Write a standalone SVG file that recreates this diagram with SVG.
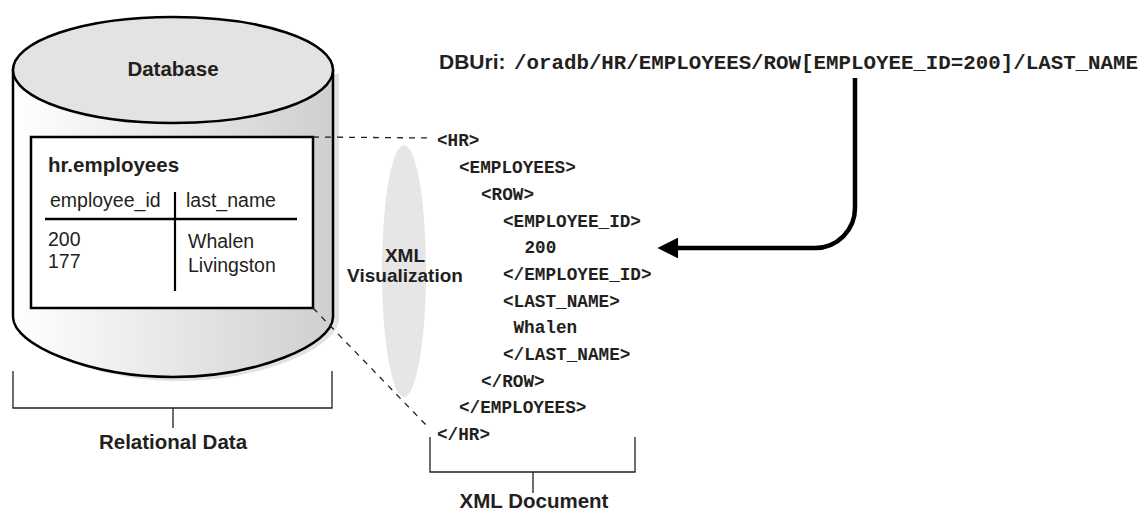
<svg xmlns="http://www.w3.org/2000/svg" width="1143" height="513" viewBox="0 0 1143 513">
<defs>
<linearGradient id="body" x1="0" y1="0" x2="1" y2="0">
<stop offset="0" stop-color="#ffffff"/>
<stop offset="1" stop-color="#cfcfd0"/>
</linearGradient>
<marker id="ah" viewBox="0 0 10 10" refX="1" refY="5" markerWidth="5.5" markerHeight="4.6" orient="auto" markerUnits="strokeWidth">
<path d="M0,0 L10,5 L0,10 z" fill="#000"/>
</marker>
<style>
.sb{font-family:"Liberation Sans",Arial,sans-serif;font-weight:bold;fill:#231f20;}
.sr{font-family:"Liberation Sans",Arial,sans-serif;fill:#231f20;}
.mono{font-family:"Liberation Mono","Courier New",monospace;font-weight:bold;fill:#231f20;}
.x{font-size:17.7px;}
.thin{stroke:#231f20;stroke-width:1.3;fill:none;}
.dash{stroke:#231f20;stroke-width:1.3;fill:none;stroke-dasharray:6 6;}
</style>
</defs>
<rect width="1143" height="513" fill="#fff"/>

<g id="database">
<path d="M19,74 L19,319 C19,347 96,381 179,381 C262,381 339,347 339,319 L339,74 Z" fill="#e2e2e2"/>
<path d="M13,70 L13,317 C13,345 90,377 173,377 C256,377 333,345 333,317 L333,70 Z" fill="url(#body)" stroke="#000" stroke-width="2.5"/>
<ellipse cx="173" cy="70" rx="160" ry="53" fill="#e3e3e3" stroke="#000" stroke-width="2.5"/>
<text class="sb" x="173" y="76" font-size="20.5" text-anchor="middle">Database</text>
</g>

<g id="table">
<rect x="31" y="137" width="282" height="171" fill="#fff" stroke="#000" stroke-width="2.5"/>
<text class="sb" x="48" y="172" font-size="20.5">hr.employees</text>
<text class="sr" x="50" y="207" font-size="19.5">employee_id</text>
<text class="sr" x="186" y="207" font-size="19.5">last_name</text>
<line x1="45" y1="219" x2="297" y2="219" stroke="#000" stroke-width="2.5"/>
<line x1="175" y1="192" x2="175" y2="291" stroke="#000" stroke-width="2.2"/>
<text class="sr" x="48" y="246" font-size="19.5">200</text>
<text class="sr" x="48" y="268" font-size="19.5">177</text>
<text class="sr" x="188" y="248" font-size="19.5">Whalen</text>
<text class="sr" x="188" y="272" font-size="19.5">Livingston</text>
</g>

<g id="relational-data">
<path class="thin" d="M13,371 L13,408 L332,408 L332,371 M173,408 L173,428"/>
<text class="sb" x="173" y="449" font-size="20.5" text-anchor="middle">Relational Data</text>
</g>

<g id="xml-visualization">
<ellipse cx="404" cy="271" rx="22" ry="126" fill="#e6e6e6"/>
<text class="sb" x="405" y="262" font-size="19" text-anchor="middle">XML</text>
<text class="sb" x="405" y="282" font-size="19" text-anchor="middle">Visualization</text>
</g>

<g id="xml-document">
<text class="mono x" x="437" y="146">&lt;HR&gt;</text>
<text class="mono x" x="459" y="173">&lt;EMPLOYEES&gt;</text>
<text class="mono x" x="481" y="200">&lt;ROW&gt;</text>
<text class="mono x" x="503" y="226.5">&lt;EMPLOYEE_ID&gt;</text>
<text class="mono x" x="524.5" y="253">200</text>
<text class="mono x" x="503" y="280">&lt;/EMPLOYEE_ID&gt;</text>
<text class="mono x" x="503" y="306.5">&lt;LAST_NAME&gt;</text>
<text class="mono x" x="513.5" y="333">Whalen</text>
<text class="mono x" x="503" y="360">&lt;/LAST_NAME&gt;</text>
<text class="mono x" x="481" y="386.5">&lt;/ROW&gt;</text>
<text class="mono x" x="459" y="413">&lt;/EMPLOYEES&gt;</text>
<text class="mono x" x="437" y="440">&lt;/HR&gt;</text>
<path class="thin" d="M430,437 L430,472 L635,472 L635,437 M533,472 L533,493"/>
<text class="sb" x="534" y="508" font-size="20.5" text-anchor="middle">XML Document</text>
</g>

<g id="dburi">
<text y="69"><tspan class="sb" x="439" style="font-size:21px">DBUri:</tspan><tspan class="mono" x="514" style="font-size:20.8px">/oradb/HR/EMPLOYEES/ROW[EMPLOYEE_ID=200]/LAST_NAME</tspan></text>
</g>

<g id="connectors">
<path class="dash" d="M313,137 L432,138"/>
<path class="dash" d="M313,308 L428,427"/>
<path d="M855,78 L855,208 A40,40 0 0 1 815,248 L676,248" fill="none" stroke="#000" stroke-width="4.5" marker-end="url(#ah)"/>
</g>
</svg>
